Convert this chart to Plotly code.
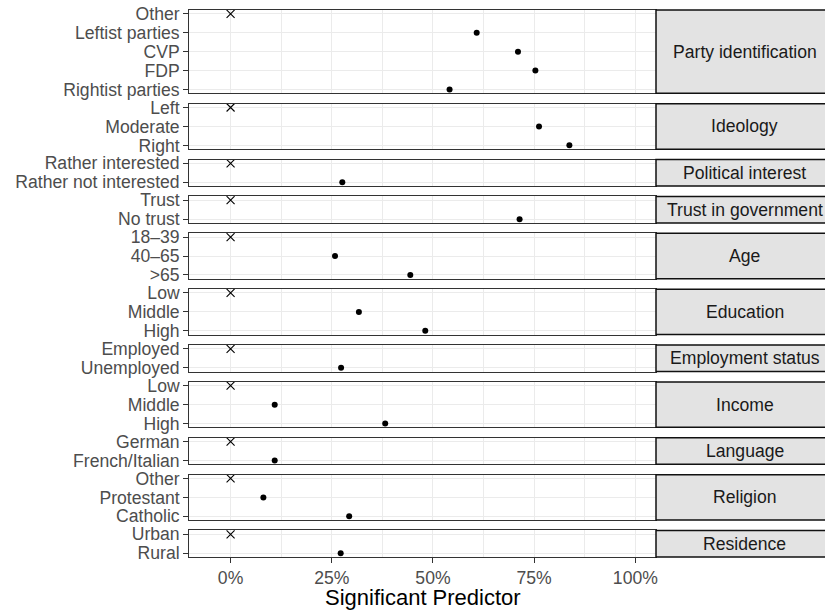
import plotly.graph_objects as go

# ---------------- data ----------------
groups = ["Party identification", "Ideology", "Political interest",
          "Trust in government", "Age", "Education", "Employment status",
          "Income", "Language", "Religion", "Residence"]

levels = [
    ["Other", "Leftist parties", "CVP", "FDP", "Rightist parties"],
    ["Left", "Moderate", "Right"],
    ["Rather interested", "Rather not interested"],
    ["Trust", "No trust"],
    ["18–39", "40–65", ">65"],
    ["Low", "Middle", "High"],
    ["Employed", "Unemployed"],
    ["Low", "Middle", "High"],
    ["German", "French/Italian"],
    ["Other", "Protestant", "Catholic"],
    ["Urban", "Rural"],
]

shares = [
    [0.0, 0.608, 0.710, 0.753, 0.541],
    [0.0, 0.762, 0.837],
    [0.0, 0.276],
    [0.0, 0.714],
    [0.0, 0.258, 0.444],
    [0.0, 0.317, 0.481],
    [0.0, 0.273],
    [0.0, 0.109, 0.382],
    [0.0, 0.109],
    [0.0, 0.081, 0.293],
    [0.0, 0.272],
]

reference_levels = ["Other", "Left", "Rather interested", "Trust", "18–39",
                    "Low", "Employed", "Low", "German", "Other", "Urban"]

x_ticks = [0, 0.25, 0.5, 0.75, 1.0]
x_title = "Significant Predictor"

# ---------------- layout geometry ----------------
W, H = 825, 614
FONT = "Liberation Sans, Arial, Helvetica, sans-serif"
top_px, bottom_px, gap_px, expand = 10.0, 557.0, 10.4, 0.2
left_px, right_px = 189.3, 656.0
strip_right_px = 833.0
x_range = [-0.102, 1.051]

units = [len(l) - 1 + 2 * expand for l in levels]
avail = (bottom_px - top_px) - gap_px * (len(levels) - 1)
u = avail / sum(units)

fig = go.Figure()
layout = dict(
    width=W, height=H,
    margin=dict(l=0, r=0, t=0, b=0, autoexpand=False),
    paper_bgcolor="white", plot_bgcolor="white",
    showlegend=False,
    font=dict(family=FONT, color="#4D4D4D"),
)
shapes, annotations = [], []

y_cur = top_px
n = len(groups)
for i, (g, lv, vals, ref) in enumerate(zip(groups, levels, shares, reference_levels)):
    k = i + 1
    h = u * units[i]
    y0p, y1p = y_cur, y_cur + h
    y_cur = y1p + gap_px
    dom = [1 - y1p / H, 1 - y0p / H]
    xa = "x" if k == 1 else f"x{k}"
    ya = "y" if k == 1 else f"y{k}"
    xkey = "xaxis" if k == 1 else f"xaxis{k}"
    ykey = "yaxis" if k == 1 else f"yaxis{k}"

    ref_x = [v for c, v in zip(lv, vals) if c == ref]
    ref_y = [c for c in lv if c == ref]
    oth_x = [v for c, v in zip(lv, vals) if c != ref]
    oth_y = [c for c in lv if c != ref]

    fig.add_trace(go.Scatter(x=ref_x, y=ref_y, mode="markers", xaxis=xa, yaxis=ya,
                             marker=dict(symbol="x-thin", size=8, color="black",
                                         line=dict(width=1.1, color="black")),
                             cliponaxis=False, hoverinfo="skip"))
    fig.add_trace(go.Scatter(x=oth_x, y=oth_y, mode="markers", xaxis=xa, yaxis=ya,
                             marker=dict(symbol="circle", size=6, color="black"),
                             cliponaxis=False))

    last = (k == n)
    layout[xkey] = dict(
        domain=[left_px / W, right_px / W], anchor=ya, range=x_range,
        tickmode="array", tickvals=x_ticks, tickformat=".0%",
        showgrid=True, gridcolor="#EBEBEB", gridwidth=1.1,
        minor=dict(tickvals=[0.125, 0.375, 0.625, 0.875], showgrid=True,
                   gridcolor="#EBEBEB", gridwidth=0.55),
        showline=True, mirror=True, linecolor="#333333", linewidth=1.3,
        zeroline=False, automargin=False,
        showticklabels=last,
        ticks="outside" if last else "",
        ticklen=5, tickwidth=1.1, tickcolor="#333333",
        tickfont=dict(size=17.6, color="#4D4D4D", family=FONT),
    )
    if k != 1:
        layout[xkey]["matches"] = "x"
    layout[ykey] = dict(
        domain=dom, anchor=xa, type="category", categoryarray=lv,
        categoryorder="array",
        tickmode="array", tickvals=lv, ticktext=lv,
        range=[len(lv) - 1 + expand, -expand],
        showgrid=True, gridcolor="#EBEBEB", gridwidth=1.1,
        showline=True, mirror=True, linecolor="#333333", linewidth=1.3,
        zeroline=False, automargin=False,
        ticks="outside", ticklen=5, tickwidth=1.1, tickcolor="#333333",
        tickfont=dict(size=17.6, color="#4D4D4D", family=FONT),
    )

    # facet strip
    shapes.append(dict(type="rect", xref="paper", yref="paper",
                       x0=right_px / W, x1=strip_right_px / W,
                       y0=dom[0], y1=dom[1],
                       fillcolor="#E3E3E3", line=dict(color="#111111", width=1.5),
                       layer="above"))
    annotations.append(dict(text=g, xref="paper", yref="paper",
                            x=(right_px + strip_right_px) / 2 / W,
                            y=(dom[0] + dom[1]) / 2, xanchor="center", yanchor="middle",
                            showarrow=False,
                            font=dict(size=17.6, color="#1A1A1A", family=FONT)))

annotations.append(dict(text=x_title, xref="paper", yref="paper",
                        x=(left_px + right_px) / 2 / W, y=1 - 597 / H,
                        xanchor="center", yanchor="middle", showarrow=False,
                        font=dict(size=22, color="black", family=FONT)))

layout["shapes"] = shapes
layout["annotations"] = annotations
fig.update_layout(**layout)
fig.write_html("out.html", config={"displayModeBar": False},
               post_script="document.body.style.margin='0';document.body.style.overflow='hidden';")
